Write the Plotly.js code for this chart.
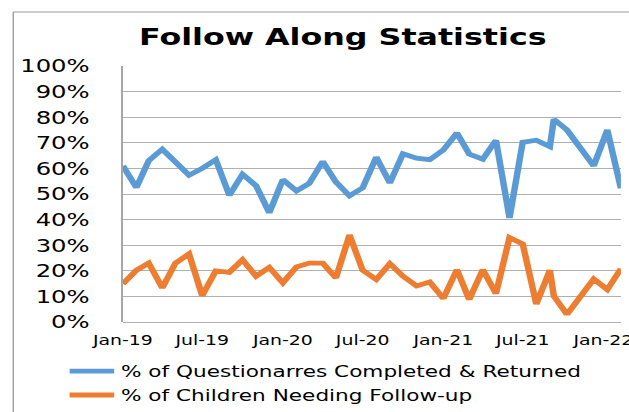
<!DOCTYPE html>
<html>
<head>
<meta charset="utf-8">
<script src="https://cdn.plot.ly/plotly-3.0.1.min.js"></script>
<style>
html,body{margin:0;padding:0;background:#fff;overflow:hidden}
#wrap{width:629px;height:412px;overflow:hidden;position:relative}
#chart{width:466px;height:412px;transform:scaleX(1.3498);transform-origin:0 0}
</style>
</head>
<body>
<div id="wrap"><div id="chart"></div></div>
<script>
const dates = ['2019-01-01','2019-02-01','2019-03-01','2019-04-01','2019-05-01','2019-06-01',
  '2019-07-01','2019-08-01','2019-09-01','2019-10-01','2019-11-01','2019-12-01',
  '2020-01-01','2020-02-01','2020-03-01','2020-04-01','2020-05-01','2020-06-01',
  '2020-07-01','2020-08-01','2020-09-01','2020-10-01','2020-11-01','2020-12-01',
  '2021-01-01','2021-02-01','2021-03-01','2021-04-01','2021-05-01','2021-06-01',
  '2021-07-01','2021-08-01','2021-09-01','2021-09-10','2021-10-10','2021-11-10',
  '2021-12-10','2022-01-10','2022-02-10'];
const completedReturned = [61,52.5,63,67.5,62.5,57.3,60,63.4,49.5,57.7,53.2,42.7,
  55.6,51.2,54.1,62.7,54.7,49.3,52.4,64.4,54.3,65.7,64,63.4,
  67.2,73.8,65.6,63.6,71,40.6,70.2,71,68.5,79.2,75,68,61,75,52.2];
const needingFollowUp = [14.9,20.2,23,13.3,23,26.6,10.3,20,19.4,24.3,17.9,21.3,
  15.3,21.5,23,23,17.2,34,20.2,16.6,22.8,17.9,14.1,15.6,
  9.2,20.4,8.8,20.4,11.1,33,30.5,7,20.2,10.1,3,10,16.8,12.7,20.8];
const seriesNames = ['% of Questionarres Completed & Returned','% of Children Needing Follow-up'];
const chartTitle = 'Follow Along Statistics';

const FONT = 'DejaVu Sans';
const traces = [
  {x: dates, y: completedReturned, name: seriesNames[0], type: 'scatter', mode: 'lines',
   line: {color: '#5B9BD5', width: 4.8}},
  {x: dates, y: needingFollowUp, name: seriesNames[1], type: 'scatter', mode: 'lines',
   line: {color: '#ED7D31', width: 4.8}}
];
const layout = {
  width: 466, height: 412,
  margin: {l: 91, r: 6, t: 66, b: 90, autoexpand: false},
  paper_bgcolor: '#fff', plot_bgcolor: '#fff',
  font: {family: FONT, color: '#000'},
  title: {text: chartTitle, font: {family: FONT, size: 23.5, weight: 'bold', color: '#000'},
          x: 0.545, xref: 'container', xanchor: 'center', y: 0.91, yref: 'container', yanchor: 'middle'},
  xaxis: {type: 'date', range: ['2019-01-01', '2022-02-10'], dtick: 'M6', tick0: '2019-01-01',
          tickformat: '%b-%y', tickangle: 0, automargin: false, ticklabeloverflow: 'allow',
          showgrid: false, showline: false, zeroline: false, ticks: '',
          ticklabelstandoff: 8, tickfont: {family: FONT, size: 14, color: '#000'}},
  yaxis: {range: [0, 100], dtick: 10, ticksuffix: '%', automargin: false, showgrid: true, gridcolor: '#b0b0b0', gridwidth: 1,
          zeroline: true, zerolinecolor: '#b0b0b0', zerolinewidth: 1,
          showline: true, linecolor: '#a6a6a6', linewidth: 1, ticks: '',
          ticklabelstandoff: 20, tickfont: {family: FONT, size: 18, color: '#000'}},
  showlegend: true,
  legend: {orientation: 'v', x: 0.1, xref: 'container', xanchor: 'left', y: 0.14, yref: 'container', yanchor: 'top',
           font: {family: FONT, size: 16, color: '#000'}, itemwidth: 33, tracegroupgap: 0, bgcolor: 'rgba(0,0,0,0)'},
  shapes: [
    {type: 'line', xref: 'paper', yref: 'paper', x0: -0.22, x1: -0.22, y0: -0.5, y1: 1.211,
     line: {color: '#999999', width: 1}},
    {type: 'line', xref: 'paper', yref: 'paper', x0: -0.22, x1: 1.2, y0: 1.211, y1: 1.211,
     line: {color: '#999999', width: 1}}
  ]
};
Plotly.newPlot('chart', traces, layout, {staticPlot: true, displayModeBar: false});
</script>
</body>
</html>
